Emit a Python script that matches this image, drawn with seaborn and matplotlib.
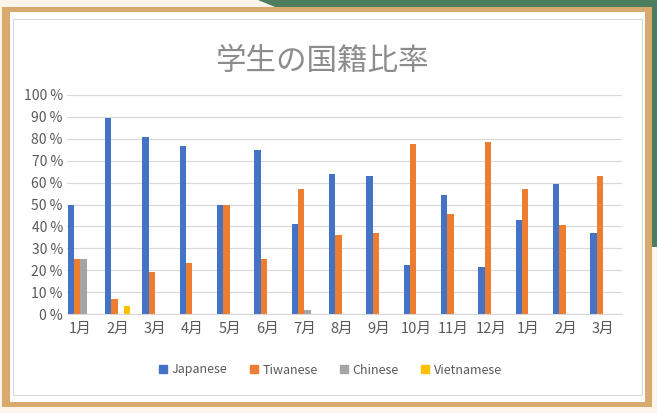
import matplotlib
matplotlib.use("Agg")
import matplotlib.pyplot as plt
from matplotlib.patches import Rectangle, Polygon
from matplotlib.lines import Line2D
import pandas as pd
import seaborn as sns

# ── DATA ──────────────────────────────────────────────────────────────
months     = ["1月", "2月", "3月", "4月", "5月", "6月", "7月", "8月",
              "9月", "10月", "11月", "12月", "1月", "2月", "3月"]
japanese   = [50, 89.5, 81, 76.5, 50, 75, 41, 64, 63, 22.5, 54.5, 21.5, 43, 59.5, 37]
tiwanese   = [25, 7, 19, 23.5, 50, 25, 57, 36, 37, 77.5, 45.5, 78.5, 57, 40.5, 63]
chinese    = [25, 0, 0, 0, 0, 0, 2, 0, 0, 0, 0, 0, 0, 0, 0]
vietnamese = [0, 3.5, 0, 0, 0, 0, 0, 0, 0, 0, 0, 0, 0, 0, 0]
series     = ["Japanese", "Tiwanese", "Chinese", "Vietnamese"]
yticks     = [0, 10, 20, 30, 40, 50, 60, 70, 80, 90, 100]
title      = "学生の国籍比率"

colors = ["#4472C4", "#ED7D31", "#A5A5A5", "#FFC000"]

rows = []
for name, vals in zip(series, [japanese, tiwanese, chinese, vietnamese]):
    for i, v in enumerate(vals):
        rows.append({"slot": i, "series": name, "value": v})
df = pd.DataFrame(rows)

# ── FIGURE ────────────────────────────────────────────────────────────
W, H = 657, 413
sns.set_style("white")
plt.rcParams["font.family"] = ["Noto Sans CJK JP", "DejaVu Sans"]
fig = plt.figure(figsize=(W / 100, H / 100), dpi=100, facecolor="#FDF4EC")


def px_rect(x0, y0, x1, y1, **kw):
    # pixel box (top-left origin) -> figure fraction rectangle, behind the axes
    r = Rectangle((x0 / W, 1 - y1 / H), (x1 - x0) / W, (y1 - y0) / H,
                  transform=fig.transFigure, zorder=-5, **kw)
    fig.add_artist(r)


# green corner, wooden frame, sheet, chart box
green = Polygon([(258 / W, 1), (1, 1), (1, 1 - 247 / H), (652 / W, 1 - 247 / H),
                 (652 / W, 1 - 7 / H), (275 / W, 1 - 7 / H)],
                closed=True, transform=fig.transFigure, color="#4B7D5E", lw=0,
                zorder=-6)
fig.add_artist(green)
px_rect(2, 7, 652, 407, facecolor="#D9AA6E", edgecolor="none")
px_rect(10, 12, 645, 402, facecolor="white", edgecolor="none")
px_rect(13, 19, 642, 395, facecolor="white", edgecolor="#D9D9D9", lw=0.8)

# ── AXES ──────────────────────────────────────────────────────────────
ax = fig.add_axes([67 / W, 1 - 314 / H, 555 / W, 219 / H])
ax.set_facecolor("none")
sns.barplot(data=df, x="slot", y="value", hue="series", hue_order=series,
            palette=colors, width=0.68, linewidth=0, saturation=1,
            ax=ax, legend=False)

ax.set_xlim(-0.36, 14.51)
ax.set_ylim(0, 100)
ax.set_yticks(yticks)
ax.set_yticklabels([f"{v} %" for v in yticks], color="#595959", fontsize=10)
ax.set_xticks(range(len(months)))
ax.set_xticklabels(months, color="#595959", fontsize=10.5)
ax.tick_params(axis="y", length=0, pad=3)
ax.tick_params(axis="x", length=0, pad=6)
ax.set_xlabel("")
ax.set_ylabel("")
ax.grid(axis="y", color="#D9D9D9", lw=0.9)
ax.set_axisbelow(True)
for s in ["top", "right", "left"]:
    ax.spines[s].set_visible(False)
ax.spines["bottom"].set_color("#D9D9D9")

fig.text(322 / W, 1 - 61 / H, title, ha="center", va="center",
         fontsize=22, color="#8C8C8C")

handles = [Line2D([], [], marker="s", linestyle="none", markersize=6,
                  markerfacecolor=c, markeredgecolor=c) for c in colors]
fig.legend(handles, series, loc="center", bbox_to_anchor=(330 / W, 1 - 370 / H),
           ncol=4, frameon=False, fontsize=9, labelcolor="#595959",
           handletextpad=0.3, columnspacing=1.7, handlelength=0.8)

fig.savefig("out.png", dpi=100, facecolor=fig.get_facecolor())
